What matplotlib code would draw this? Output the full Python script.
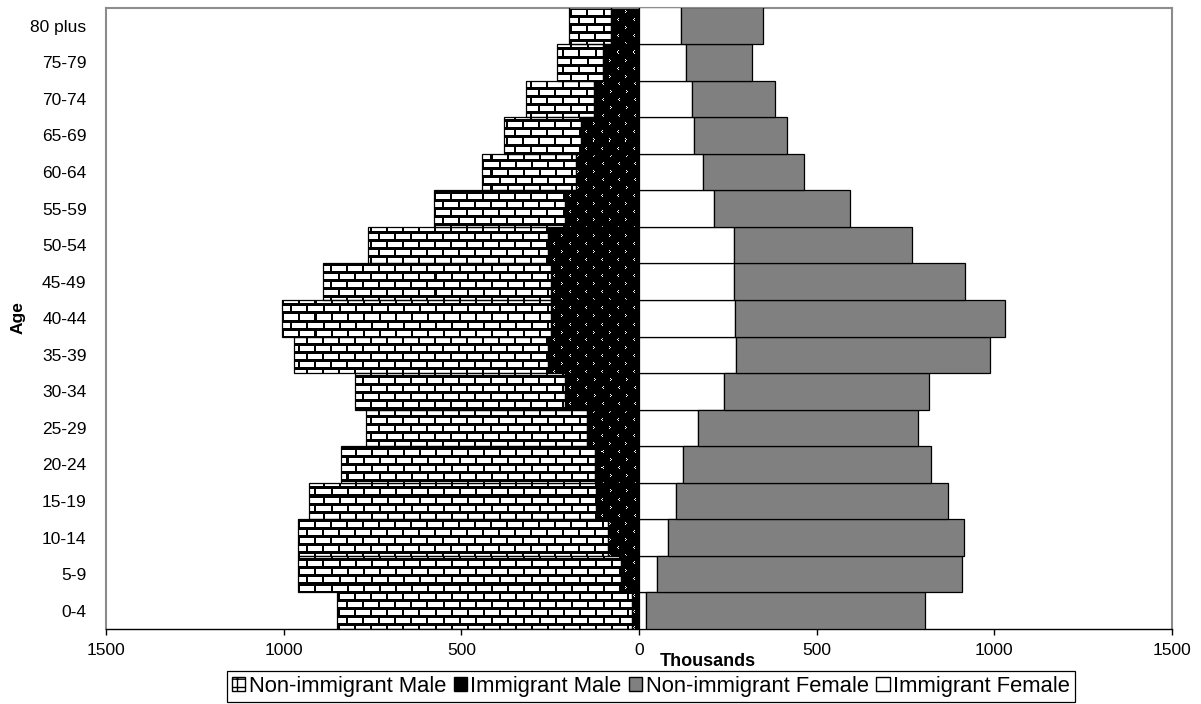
import numpy as np
import matplotlib
matplotlib.use('Agg')
import matplotlib.pyplot as plt
from matplotlib.patches import Patch
from matplotlib.ticker import FuncFormatter

plt.rcParams['font.family'] = ['Liberation Sans', 'DejaVu Sans']

ages = ['0-4', '5-9', '10-14', '15-19', '20-24', '25-29', '30-34', '35-39',
        '40-44', '45-49', '50-54', '55-59', '60-64', '65-69', '70-74',
        '75-79', '80 plus']

# thousands, bottom (0-4) to top (80 plus)
nonimm_male = [832, 911, 872, 808, 715, 622, 590, 714, 759, 643, 506, 369,
               265, 218, 189, 130, 119]
imm_male = [19, 50, 87, 122, 125, 146, 209, 256, 247, 247, 256, 207, 178,
            162, 128, 101, 78]
nonimm_female = [785, 859, 831, 766, 698, 617, 578, 714, 761, 649, 500, 383,
                 284, 261, 234, 187, 230]
imm_female = [21, 51, 83, 103, 124, 167, 238, 274, 270, 268, 268, 210, 179,
              156, 148, 131, 119]

xticks = [-1500, -1000, -500, 0, 500, 1000, 1500]

W, H = 1201, 704
fig = plt.figure(figsize=(W / 100, H / 100), dpi=100)
ax = fig.add_axes([106 / W, 1 - 629 / H, 1066 / W, 621.5 / H])

y = np.arange(len(ages))
nm = np.array(nonimm_male)
im_ = np.array(imm_male)
nf = np.array(nonimm_female)
imf = np.array(imm_female)

edge = dict(edgecolor='black', linewidth=0.9)
b_nm = ax.barh(y, -nm, left=-im_, height=1.0, facecolor='none', zorder=3, **edge)
b_im = ax.barh(y, -im_, height=1.0, facecolor='none', zorder=3, **edge)
ax.barh(y, imf, height=1.0, facecolor='white', zorder=3, **edge)
ax.barh(y, nf, left=imf, height=1.0, facecolor='#808080', zorder=3, **edge)

ax.set_xlim(-1500, 1500)
ax.set_ylim(-0.5, len(ages) - 0.5)

# textures in pixel space (brick for non-immigrant, dotted black for immigrant)
th, tw = 622, 1066
yy, xx = np.mgrid[0:th, 0:tw]
row = yy // 8
shift = (row % 2) * 8
mortar = (yy % 8 < 3) | ((xx + shift) % 16 < 2)
brick = np.where(mortar, 0, 255).astype(np.uint8)
brick = np.stack([brick] * 3, axis=-1)

r = yy % 8
c = (xx + shift) % 16
flip = (row % 2 == 1)
tip = np.where(flip, 7, 8)
base = np.where(flip, 8, 7)
dots = ((r == 3) & (c == base)) | ((r == 4) & (c == tip)) | ((r == 5) & (c == base))
dark = np.where(dots, 255, 0).astype(np.uint8)
dark = np.stack([dark] * 3, axis=-1)

ext = (-1500, 1500, -0.5, len(ages) - 0.5)
for bars, tex in ((b_nm, brick), (b_im, dark)):
    for p in bars:
        img = ax.imshow(tex, extent=ext, aspect='auto', interpolation='nearest',
                        origin='upper', zorder=2)
        img.set_clip_path(p)

ax.set_xlim(-1500, 1500)
ax.set_ylim(-0.5, len(ages) - 0.5)

ax.set_yticks(y)
ax.set_yticklabels(ages)
ax.set_xticks(xticks)
ax.xaxis.set_major_formatter(FuncFormatter(lambda v, pos: '%d' % abs(v)))
ax.tick_params(axis='x', direction='out', length=4, width=1, labelsize=12.5, pad=6)
ax.tick_params(axis='y', length=0, labelsize=12.5, pad=14)

for side in ('left', 'top', 'right'):
    ax.spines[side].set_color('#8c8c8c')
    ax.spines[side].set_linewidth(1.5)
ax.spines['bottom'].set_color('black')
ax.spines['bottom'].set_linewidth(1.0)

fig.text(660 / W, 1 - 662 / H, 'Thousands', fontsize=13, fontweight='bold',
         ha='left', va='center')
fig.text(18 / W, 1 - 318 / H, 'Age', fontsize=12.5, fontweight='bold',
         rotation=90, ha='center', va='center')

handles = [
    Patch(facecolor='white', edgecolor='black', hatch='++', label='Non-immigrant Male'),
    Patch(facecolor='black', edgecolor='black', label='Immigrant Male'),
    Patch(facecolor='#808080', edgecolor='black', label='Non-immigrant Female'),
    Patch(facecolor='white', edgecolor='black', label='Immigrant Female'),
]
leg = fig.legend(handles=handles, ncol=4, loc='center',
                 bbox_to_anchor=(651 / W, 1 - 686.5 / H), frameon=True,
                 fancybox=False, edgecolor='black', framealpha=1,
                 fontsize=15.8, borderpad=0.22, handlelength=0.6,
                 handleheight=0.6, handletextpad=0.15, columnspacing=0.35,
                 borderaxespad=0)
leg.get_frame().set_linewidth(0.9)

fig.savefig('out.png', dpi=100)
